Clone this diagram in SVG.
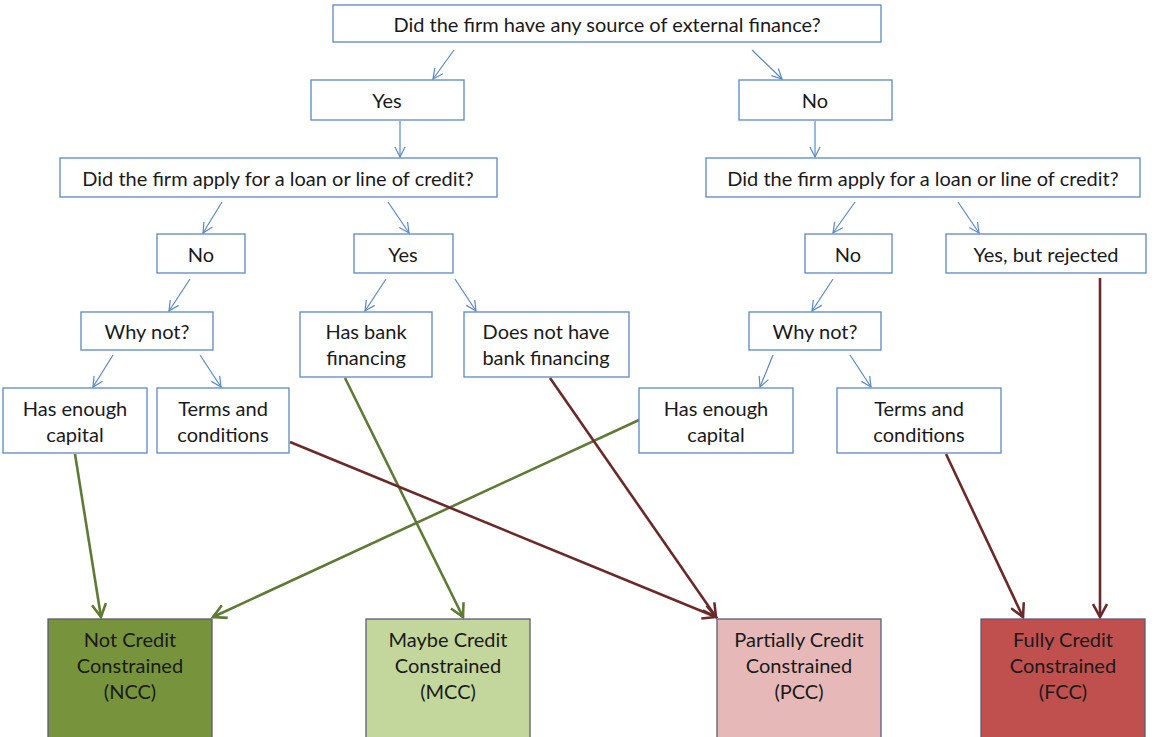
<svg xmlns="http://www.w3.org/2000/svg" width="1155" height="737" viewBox="0 0 1155 737">
<style>
.b{fill:#fff;stroke:#5B89C4;stroke-width:1.3}
.t{font-family:Lato,"Open Sans",sans-serif;font-size:20px;fill:#1a1a1a;text-anchor:middle;dominant-baseline:central}
.f{stroke:#5F5A78;stroke-width:1.3}
.c{stroke:#5B89C4;stroke-width:1.2;fill:none;marker-end:url(#ab)}
.g{stroke:#5E7A35;stroke-width:2.6;fill:none;marker-end:url(#ag)}
.r{stroke:#6B2A2A;stroke-width:2.6;fill:none;marker-end:url(#ar)}
</style>
<defs>
<marker id="ab" viewBox="0 0 12 12" refX="11" refY="6" markerWidth="12" markerHeight="12" markerUnits="userSpaceOnUse" orient="auto"><path d="M1,1 L11,6 L1,11" fill="none" stroke="#5B89C4" stroke-width="1.2"/></marker>
<marker id="ag" viewBox="0 0 16 16" refX="14" refY="8" markerWidth="16" markerHeight="16" markerUnits="userSpaceOnUse" orient="auto"><path d="M1,1 L14,8 L1,15" fill="none" stroke="#5E7A35" stroke-width="2.6"/></marker>
<marker id="ar" viewBox="0 0 16 16" refX="14" refY="8" markerWidth="16" markerHeight="16" markerUnits="userSpaceOnUse" orient="auto"><path d="M1,1 L14,8 L1,15" fill="none" stroke="#6B2A2A" stroke-width="2.6"/></marker>
</defs>
<rect width="1155" height="737" fill="#fff"/>
<g id="connectors">
<line class="c" x1="454" y1="50" x2="433" y2="79"/>
<line class="c" x1="752" y1="50" x2="782" y2="79"/>
<line class="c" x1="400" y1="121" x2="400" y2="157"/>
<line class="c" x1="815" y1="121" x2="815" y2="157"/>
<line class="c" x1="222" y1="202" x2="203" y2="233"/>
<line class="c" x1="388" y1="202" x2="409" y2="233"/>
<line class="c" x1="190" y1="279" x2="169" y2="311"/>
<line class="c" x1="386" y1="279" x2="365" y2="311"/>
<line class="c" x1="455" y1="279" x2="476" y2="311"/>
<line class="c" x1="113" y1="355" x2="93" y2="387"/>
<line class="c" x1="200" y1="355" x2="221" y2="387"/>
<line class="c" x1="855" y1="202" x2="833" y2="233"/>
<line class="c" x1="958" y1="202" x2="979" y2="233"/>
<line class="c" x1="833" y1="279" x2="812" y2="311"/>
<line class="c" x1="773" y1="355" x2="760" y2="387"/>
<line class="c" x1="850" y1="355" x2="871" y2="387"/>
<line class="g" x1="75" y1="454" x2="101" y2="617"/>
<line class="g" x1="345" y1="378" x2="463" y2="617"/>
<line class="g" x1="639" y1="420" x2="213" y2="617"/>
<line class="r" x1="290" y1="442" x2="716" y2="617"/>
<line class="r" x1="550" y1="378" x2="716" y2="617"/>
<line class="r" x1="946" y1="454" x2="1023" y2="617"/>
<line class="r" x1="1100" y1="278" x2="1100" y2="617"/>
</g>
<g id="q1"><rect class="b" x="333" y="5" width="548" height="37"/><text class="t" x="607" y="24">Did the firm have any source of external finance?</text></g>
<g id="yes1"><rect class="b" x="311" y="80" width="153" height="40"/><text class="t" x="387" y="100">Yes</text></g>
<g id="no1"><rect class="b" x="739" y="80" width="153" height="40"/><text class="t" x="815" y="100">No</text></g>
<g id="qL"><rect class="b" x="60" y="158" width="437" height="39"/><text class="t" x="278" y="178">Did the firm apply for a loan or line of credit?</text></g>
<g id="qR"><rect class="b" x="706" y="158" width="434" height="39"/><text class="t" x="923" y="178">Did the firm apply for a loan or line of credit?</text></g>
<g id="noL"><rect class="b" x="157" y="234" width="88" height="39"/><text class="t" x="201" y="254">No</text></g>
<g id="yesL"><rect class="b" x="354" y="234" width="99" height="39"/><text class="t" x="403" y="254">Yes</text></g>
<g id="noR"><rect class="b" x="805" y="234" width="87" height="39"/><text class="t" x="848" y="254">No</text></g>
<g id="rejected"><rect class="b" x="946" y="234" width="200" height="39"/><text class="t" x="1046" y="254">Yes, but rejected</text></g>
<g id="whyL"><rect class="b" x="81" y="312" width="132" height="38"/><text class="t" x="147" y="331">Why not?</text></g>
<g id="hasbank"><rect class="b" x="300" y="312" width="132" height="65"/><text class="t" x="366" y="331">Has bank</text><text class="t" x="366" y="357">financing</text></g>
<g id="nobank"><rect class="b" x="464" y="312" width="165" height="65"/><text class="t" x="546" y="331">Does not have</text><text class="t" x="546" y="357">bank financing</text></g>
<g id="whyR"><rect class="b" x="749" y="312" width="132" height="38"/><text class="t" x="815" y="331">Why not?</text></g>
<g id="capL"><rect class="b" x="3" y="388" width="144" height="65"/><text class="t" x="75" y="408">Has enough</text><text class="t" x="75" y="434">capital</text></g>
<g id="termsL"><rect class="b" x="157" y="388" width="132" height="65"/><text class="t" x="223" y="408">Terms and</text><text class="t" x="223" y="434">conditions</text></g>
<g id="capR"><rect class="b" x="639" y="388" width="154" height="65"/><text class="t" x="716" y="408">Has enough</text><text class="t" x="716" y="434">capital</text></g>
<g id="termsR"><rect class="b" x="837" y="388" width="164" height="65"/><text class="t" x="919" y="408">Terms and</text><text class="t" x="919" y="434">conditions</text></g>
<g id="ncc"><rect class="f" x="48" y="619" width="164" height="125" fill="#77933C"/><text class="t" x="130" y="639">Not Credit</text><text class="t" x="130" y="665">Constrained</text><text class="t" x="130" y="691">(NCC)</text></g>
<g id="mcc"><rect class="f" x="366" y="619" width="164" height="125" fill="#C3D69B"/><text class="t" x="448" y="639">Maybe Credit</text><text class="t" x="448" y="665">Constrained</text><text class="t" x="448" y="691">(MCC)</text></g>
<g id="pcc"><rect class="f" x="717" y="619" width="164" height="125" fill="#E6B9B8"/><text class="t" x="799" y="639">Partially Credit</text><text class="t" x="799" y="665">Constrained</text><text class="t" x="799" y="691">(PCC)</text></g>
<g id="fcc"><rect class="f" x="981" y="619" width="164" height="125" fill="#C0504D"/><text class="t" x="1063" y="639">Fully Credit</text><text class="t" x="1063" y="665">Constrained</text><text class="t" x="1063" y="691">(FCC)</text></g>
</svg>
